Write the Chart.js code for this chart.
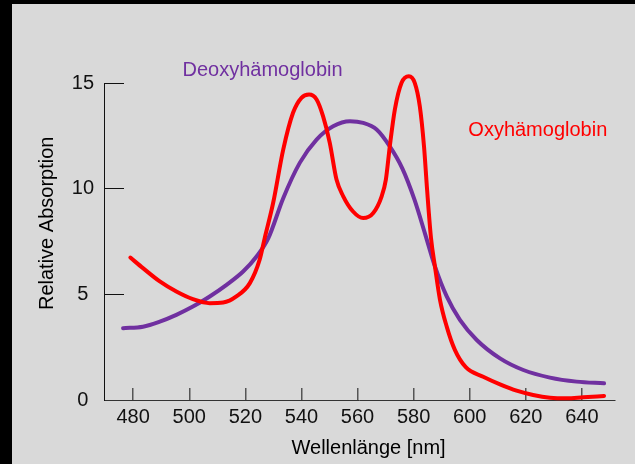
<!DOCTYPE html>
<html>
<head>
<meta charset="utf-8">
<script src="https://cdn.jsdelivr.net/npm/chart.js@4"></script>
<style>
html,body{margin:0;padding:0;background:#d9d9d9;overflow:hidden}
#wrap{position:relative;width:635px;height:464px}
</style>
</head>
<body>
<div id="wrap"><canvas id="c"></canvas></div>
<script>
// ---- data ----
const oxyWavelength = [479.0,483.5,489.5,495.4,501.3,507.3,512.1,516.8,521.6,525.1,526.9,529.9,533.5,537.0,540.0,542.7,545.4,547.7,550.1,552.5,554.9,558.4,562.0,565.6,568.6,570.1,571.5,573.3,575.7,578.3,580.4,582.2,583.7,584.8,586.2,587.6,589.4,591.8,594.7,598.6,604.8,610.8,616.7,622.6,628.6,634.6,640.5,647.9];
const oxyAbsorption = [6.74,6.24,5.61,5.13,4.77,4.58,4.61,4.90,5.53,6.64,7.66,9.32,11.85,13.59,14.30,14.45,14.22,13.43,12.17,10.43,9.64,8.92,8.61,8.85,9.64,10.43,12.0,13.74,15.01,15.32,15.01,13.9,12.0,9.95,7.66,6.32,4.74,3.47,2.37,1.55,1.10,0.74,0.44,0.24,0.11,0.08,0.13,0.19];

const deoxyWavelength = [476.4,483.5,489.5,495.4,501.3,507.3,513.3,519.2,524.0,528.2,533.5,539.4,545.4,551.3,557.3,562.0,566.8,571.5,576.0,580.3,584.0,587.6,591.8,596.5,602.5,610.8,619.1,628.6,638.1,647.9];
const deoxyAbsorption = [3.40,3.47,3.71,4.03,4.42,4.90,5.45,6.08,6.79,7.66,9.55,11.22,12.32,12.95,13.19,13.11,12.80,12.0,10.95,9.48,7.90,6.32,4.90,3.79,2.84,1.97,1.42,1.06,0.87,0.79];

const xTicks = [480,500,520,540,560,580,600,620,640];
const yTicks = [0,5,10,15];

const oxyLabel = "Oxyhämoglobin";
const deoxyLabel = "Deoxyhämoglobin";
const xTitle = "Wellenlänge [nm]";
const yTitle = "Relative Absorption";
const oxyLabelAt = [599.5, 12.48];
const deoxyLabelAt = [497.6, 15.32];

const oxyColor = "#ff0000";
const deoxyColor = "#7030a0";
const FONT = '"Liberation Sans", Arial, sans-serif';

const toPoints = (xs, ys) => xs.map((v, i) => ({x: v, y: ys[i]}));

const bgPlugin = {
  id: 'bg',
  beforeDraw(chart) {
    const c = chart.ctx;
    c.save();
    c.fillStyle = '#000';
    c.fillRect(0, 0, chart.width, chart.height);
    c.fillStyle = '#d9d9d9';
    c.fillRect(12, 4, chart.width - 12, chart.height - 4);
    c.restore();
  }
};

const textPlugin = {
  id: 'texts',
  afterDraw(chart) {
    const {ctx, scales: {x, y}} = chart;
    ctx.save();
    ctx.font = '20px ' + FONT;
    ctx.textBaseline = 'alphabetic';
    ctx.textAlign = 'left';
    ctx.fillStyle = deoxyColor;
    ctx.fillText(deoxyLabel, x.getPixelForValue(deoxyLabelAt[0]), y.getPixelForValue(deoxyLabelAt[1]));
    ctx.fillStyle = oxyColor;
    ctx.fillText(oxyLabel, x.getPixelForValue(oxyLabelAt[0]), y.getPixelForValue(oxyLabelAt[1]));
    ctx.fillStyle = '#000';
    ctx.textAlign = 'center';
    ctx.fillText(xTitle, 368.6, 453.7);
    ctx.translate(52.7, 223.3);
    ctx.rotate(-Math.PI / 2);
    ctx.fillText(yTitle, 0, 0);
    ctx.restore();
  }
};

new Chart(document.getElementById('c'), {
  type: 'line',
  data: {
    datasets: [
      {
        label: oxyLabel,
        data: toPoints(oxyWavelength, oxyAbsorption),
        borderColor: oxyColor,
        borderWidth: 4,
        pointRadius: 0,
        cubicInterpolationMode: 'monotone',
        borderCapStyle: 'round',
        borderJoinStyle: 'round',
        clip: false,
        fill: false
      },
      {
        label: deoxyLabel,
        data: toPoints(deoxyWavelength, deoxyAbsorption),
        borderColor: deoxyColor,
        borderWidth: 4,
        pointRadius: 0,
        cubicInterpolationMode: 'monotone',
        borderCapStyle: 'round',
        borderJoinStyle: 'round',
        clip: false,
        fill: false
      }
    ]
  },
  options: {
    responsive: true,
    maintainAspectRatio: false,
    animation: false,
    devicePixelRatio: 1,
    layout: {padding: {top: 83, right: 20, left: 0, bottom: 0}},
    plugins: {legend: {display: false}, tooltip: {enabled: false}},
    scales: {
      x: {
        type: 'linear',
        min: 469.6,
        max: 651.8,
        afterBuildTicks: s => { s.ticks = xTicks.map(v => ({value: v})); },
        afterFit: s => { s.height = 64; },
        grid: {drawOnChartArea: false, drawTicks: true, tickLength: -12, color: '#555', lineWidth: 1.5},
        border: {display: true, color: '#333', width: 1},
        ticks: {color: '#111', font: {family: FONT, size: 20}, padding: 17, maxRotation: 0, autoSkip: false}
      },
      y: {
        type: 'linear',
        min: 0,
        max: 15,
        afterBuildTicks: s => { s.ticks = yTicks.map(v => ({value: v})); },
        afterFit: s => { s.width = 104; },
        grid: {drawOnChartArea: false, drawTicks: true, tickLength: -20, color: '#111', lineWidth: 1},
        border: {display: true, color: '#111', width: 1},
        ticks: {color: '#111', font: {family: FONT, size: 20}, padding: 30, crossAlign: 'center', autoSkip: false}
      }
    }
  },
  plugins: [bgPlugin, textPlugin]
});
</script>
</body>
</html>
